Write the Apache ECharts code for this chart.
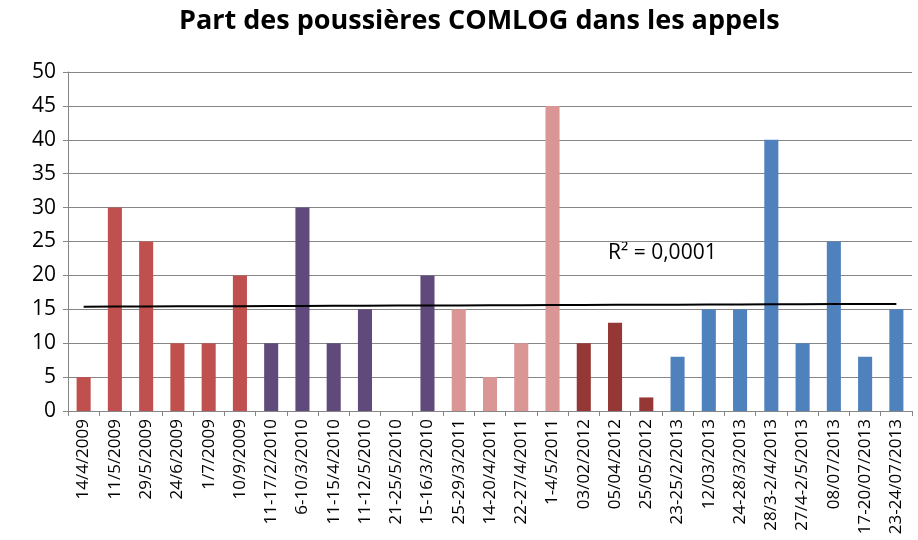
<!DOCTYPE html>
<html>
<head>
<meta charset="utf-8">
<script src="https://cdn.jsdelivr.net/npm/echarts@6/dist/echarts.min.js"></script>
<style>
  html, body { margin: 0; padding: 0; background: #fff; }
  #chart { width: 918px; height: 540px; }
</style>
</head>
<body>
<div id="chart"></div>
<script>
  const categories = [
    '14/4/2009', '11/5/2009', '29/5/2009', '24/6/2009', '1/7/2009', '10/9/2009',
    '11-17/2/2010', '6-10/3/2010', '11-15/4/2010', '11-12/5/2010', '21-25/5/2010', '15-16/3/2010',
    '25-29/3/2011', '14-20/4/2011', '22-27/4/2011', '1-4/5/2011',
    '03/02/2012', '05/04/2012', '25/05/2012',
    '23-25/2/2013', '12/03/2013', '24-28/3/2013', '28/3-2/4/2013', '27/4-2/5/2013',
    '08/07/2013', '17-20/07/2013', '23-24/07/2013'
  ];
  const values = [5, 30, 25, 10, 10, 20, 10, 30, 10, 15, 0, 20, 15, 5, 10, 45, 10, 13, 2, 8, 15, 15, 40, 10, 25, 8, 15];
  const yTicks = [0, 5, 10, 15, 20, 25, 30, 35, 40, 45, 50];

  // une couleur par année
  const yearColors = {
    '2009': '#C0504D',
    '2010': '#604A7B',
    '2011': '#D99694',
    '2012': '#953735',
    '2013': '#4F81BD'
  };

  // courbe de tendance linéaire (moindres carrés)
  const n = values.length;
  const mx = (n - 1) / 2;
  const my = values.reduce((a, b) => a + b, 0) / n;
  let sxy = 0, sxx = 0;
  values.forEach((v, i) => { sxy += (i - mx) * (v - my); sxx += (i - mx) * (i - mx); });
  const slope = sxy / sxx;
  const trend = values.map((v, i) => +(my + slope * (i - mx)).toFixed(3));

  const barData = values.map((v, i) => ({
    value: v,
    itemStyle: { color: yearColors[categories[i].slice(-4)] }
  }));

  const chart = echarts.init(document.getElementById('chart'));
  chart.setOption({
    animation: false,
    title: {
      text: 'Part des poussières COMLOG dans les appels',
      left: 174,
      top: 3,
      textStyle: { fontFamily: 'Open Sans', fontWeight: 'bold', fontSize: 27, color: '#000' }
    },
    grid: { left: 68, right: 6, top: 72, bottom: 129 },
    xAxis: {
      type: 'category',
      data: categories,
      axisLine: { lineStyle: { color: '#868686' } },
      axisTick: { show: true, length: 5, lineStyle: { color: '#868686' } },
      axisLabel: {
        rotate: 90, interval: 0, color: '#000', fontSize: 17,
        fontFamily: 'Open Sans', margin: 8
      }
    },
    yAxis: {
      type: 'value',
      min: 0, max: 50, interval: 5,
      axisLine: { show: true, lineStyle: { color: '#868686' } },
      axisTick: { show: true, length: 5, lineStyle: { color: '#868686' } },
      splitLine: { lineStyle: { color: '#868686' } },
      axisLabel: {
        color: '#000', fontSize: 21, fontFamily: 'Open Sans', margin: 12,
        formatter: v => yTicks.includes(v) ? String(v) : ''
      }
    },
    series: [
      {
        type: 'bar',
        data: barData,
        barWidth: '45%'
      },
      {
        type: 'line',
        data: trend,
        symbol: 'none',
        lineStyle: { color: '#000', width: 2 },
        z: 5
      }
    ],
    graphic: [{
      type: 'text',
      left: 608,
      top: 243,
      style: { text: 'R² = 0,0001', fontSize: 21, fontFamily: 'Open Sans', fill: '#000' }
    }]
  });
</script>
</body>
</html>
